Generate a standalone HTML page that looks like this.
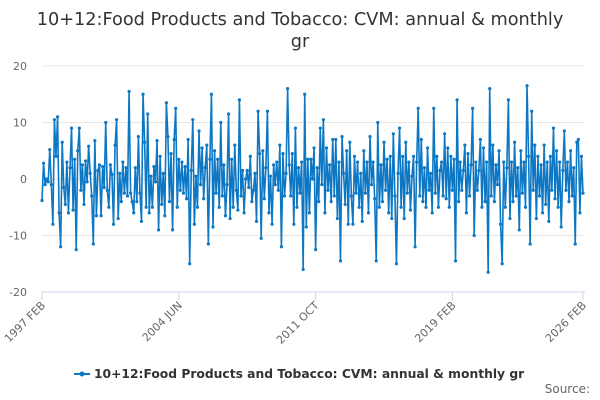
<!DOCTYPE html>
<html><head><meta charset="utf-8"><style>
body{margin:0;background:#fff;font-family:"DejaVu Sans","Liberation Sans",sans-serif;}
#wrap{position:relative;width:600px;height:400px;overflow:hidden}
</style></head><body>
<div id="wrap">
<svg id="svg" width="600" height="400" font-family="DejaVu Sans, Liberation Sans, sans-serif">
<text x="300" y="25" text-anchor="middle" font-size="17.7" fill="#333">10+12:Food Products and Tobacco: CVM: annual &amp; monthly</text>
<text x="300" y="47" text-anchor="middle" font-size="17.7" fill="#333">gr</text>
<g id="grid"></g><g id="axes"></g><g id="series"></g>
<g>
<line x1="74" y1="374" x2="90" y2="374" stroke="#0d77c4" stroke-width="2"/>
<circle cx="82" cy="374" r="2.5" fill="#0d77c4"/>
<text x="94" y="378" font-size="12.3" font-weight="bold" fill="#333">10+12:Food Products and Tobacco: CVM: annual &amp; monthly gr</text>
</g>
<text x="590" y="393" text-anchor="end" font-size="12" fill="#666">Source:</text>
</svg></div>
<script>
const values=[-3.8,2.8,-1,0,-0.5,5.2,-1,-8,10.5,4,
11,-6,-12,6.5,-1.5,-4.5,3,-6,2,9,
-5.5,3.5,-12.5,5,9,-2,2.5,-4.5,3.2,-0.5,
5.8,1,-3,-11.5,6.8,-6.5,1.5,2.5,-6.5,2.2,
-1.5,10,-2,-5,2.5,0.8,-8,6,10.5,-7,
1,-4,3,-2.5,2,-3,15.5,-2.5,-4,-6,
2,-4,7.5,-2.5,-7.5,15,6.5,-5,11.5,-6,
0.5,-5,2.2,-0.5,6.8,-9,4,-4.5,1,-6.5,
13.5,7.5,-4,4.5,-9,7,12.5,-5,3.5,-2,
3,-2.5,2.2,-3.5,7,-15,1.5,10.5,-8,0.5,
-5,8.5,-1,5.5,-3.5,2,6,-11.5,3.5,15,
-8.5,5,-2.5,3.5,-5,10,-3,2.5,-6.5,-1,
11.5,-7,3.5,-5,6,-2,-5.5,14,-3,1.5,
-6,0,1.5,-1.5,4,-4,-2,1,-7.5,12,
4.5,-10.5,5,-3.5,2,12,-6,0.5,-8,2.5,
-1,3,-2,6,-12,4.5,-3,1,16,2.5,
-3,4.5,-8,9,-5,2,-2.5,3,-16,15,
-8.5,3.5,-6,3.5,0,5.5,-12.5,2,-4,9,
-1,10.5,-6,5.5,-2,2.5,-4,7,-3,7,
-7,3,-14.5,7.5,1,-4.5,5,-8,6.5,-3,
-8,4,-2.5,3,-5,1,-7.5,5,-2.5,3,
-6,7.5,-1,3,-3.5,-14.5,10,-5,2.5,-4,
6.5,-2,3.5,-6,4,-7,8,-3,-15,1,
9,-5,4,-7,6.5,-2.5,3,-5.5,0.5,4,
-12,3,12.5,-3,7,-4,2,-5,5.5,-2,
1,-6,12.5,-2.5,4,-5,1.5,3,-3,8,
-3.5,5.5,-5,4,-2,3.5,-14.5,14,-4,3,
-2,1.5,6,-6,4.5,-3,2.5,12.5,-10,3,
-2,1.5,7,-5,5.5,-4,3,-16.5,16,-3,
6,-4,2.5,-1,5,-8,-15,3,-5,2,
14,-7,3,-4,6.5,-3,2,-9,5,-2.5,
3,-5,16.5,4,-11.5,12,-2,6,-7,4,
-3,2.5,-6,6,-4.5,3,-7.5,4,-2,9,
-3.5,5,-5,3,-8.5,1.5,8.5,-2,3,-4,
5,-3,2,-11.5,6.5,7,-6,4,-2.5];
const yTicks=[20,10,0,-10,-20];
const xTickLabels=["1997 FEB","2004 JUN","2011 OCT","2019 FEB","2026 FEB"];
const xTickIndex=[0,88,176,264,348];
</script>
<script>
const NS="http://www.w3.org/2000/svg";
const X0=42,X1=583,Y0=179,S=5.65;
const xs=i=>X0+(X1-X0)*i/(values.length-1);
const ys=v=>Y0-v*S;
function mk(t,a,p){const e=document.createElementNS(NS,t);for(const k in a)e.setAttribute(k,a[k]);p.appendChild(e);return e;}
const grid=document.getElementById('grid'),axes=document.getElementById('axes'),ser=document.getElementById('series');
yTicks.forEach(v=>{
 const l=mk('line',{x1:X0,x2:X1+2,y1:ys(v),y2:ys(v),stroke:v===-20?'#ccd6eb':'#e6e6e6','stroke-width':1},grid);
 
 
 const t=mk('text',{x:27,y:ys(v)+4,'text-anchor':'end','font-size':11,fill:'#666'},axes);
 t.textContent=v;
 
 
});
xTickIndex.forEach((ix,k)=>{
 const x=xs(ix);
 const tk=mk('line',{x1:x,x2:x,y1:ys(-20),y2:ys(-20)+8,stroke:'#ccd6eb'},axes);
 
 
 const t=mk('text',{x:x+4,y:ys(-20)+14,'text-anchor':'end','font-size':11,fill:'#666',transform:`rotate(-45 ${x+4} ${ys(-20)+14})`},axes);
 t.textContent=xTickLabels[k];
 
 
});
const pts=values.map((v,i)=>xs(i).toFixed(2)+','+ys(v).toFixed(2)).join(' ');
const pl=mk('polyline',{points:pts,fill:'none',stroke:'#0d77c4','stroke-width':1.6,'stroke-linejoin':'round'},ser);


values.forEach((v,i)=>{
 const c=mk('circle',{cx:xs(i),cy:ys(v),r:1.6,fill:'#0d77c4'},ser);
 
 
});
</script>
</body></html>
